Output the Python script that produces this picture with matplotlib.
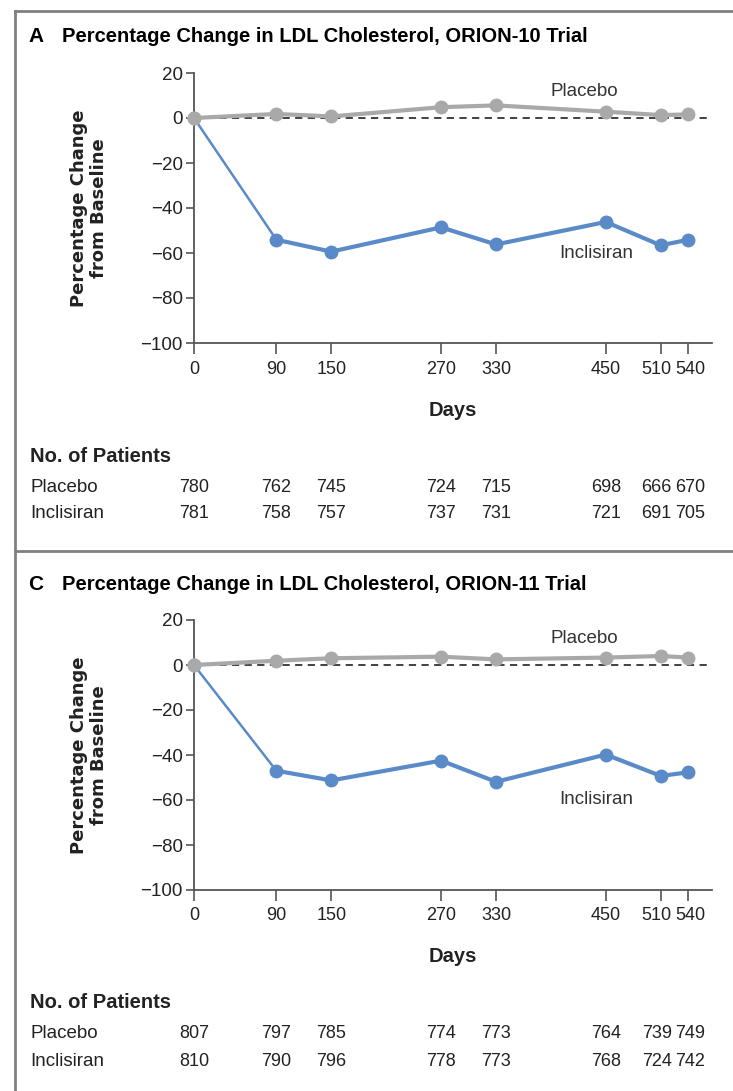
import matplotlib
matplotlib.use("Agg")
import matplotlib.pyplot as plt
from matplotlib import font_manager
from matplotlib.lines import Line2D
from matplotlib.transforms import blended_transform_factory, ScaledTranslation

# --- data ---
days = [0, 90, 150, 270, 330, 450, 510, 540]

placebo_a = [0, 1.8, 0.7, 4.8, 5.6, 2.8, 1.3, 1.6]
inclisiran_a = [0, -54.1, -59.4, -48.6, -56.2, -46.2, -56.6, -54.1]
n_placebo_a = [780, 762, 745, 724, 715, 698, 666, 670]
n_inclisiran_a = [781, 758, 757, 737, 731, 721, 691, 705]

placebo_c = [0, 1.9, 3.0, 3.7, 2.5, 3.3, 4.0, 3.3]
inclisiran_c = [0, -47.0, -51.3, -42.5, -51.9, -39.8, -49.3, -47.7]
n_placebo_c = [807, 797, 785, 774, 773, 764, 739, 749]
n_inclisiran_c = [810, 790, 796, 778, 773, 768, 724, 742]

y_ticks = [20, 0, -20, -40, -60, -80, -100]

W, H = 733, 1091
GRAY = "#a9a9a9"
BLUE = "#5a8ac8"
FRAME = "#808080"
TXT = "#222222"
NUM = 13

# the last two columns (510, 540) are crowded: nudge their labels apart a little (px)
nudge = {510: -4, 540: 2}

names = {f.name for f in font_manager.fontManager.ttflist}
narrow = "Liberation Sans Narrow" if "Liberation Sans Narrow" in names else "Liberation Sans"

fig = plt.figure(figsize=(W / 100, H / 100), dpi=100)


def fx(px):
    return px / W


def fy(py):
    return 1 - py / H


# outer frame: top edge, left edge and the divider between the panels
for xs, ys in [([15, W], [11, 11]), ([15, 15], [11, H]), ([15, W], [551, 551])]:
    fig.add_artist(Line2D([fx(x) for x in xs], [fy(y) for y in ys], color=FRAME, lw=2,
                          transform=fig.transFigure))


def column_text(ax, d, py, s, **kw):
    trans = blended_transform_factory(ax.transData, fig.transFigure)
    trans = trans + ScaledTranslation(nudge.get(d, 0) / 100, 0, fig.dpi_scale_trans)
    ax.text(d, fy(py), s, transform=trans, fontsize=NUM, family=narrow, ha="center",
            va="center", clip_on=False, color=TXT, **kw)


def panel(letter, trial, placebo, inclisiran, n_plac, n_incl, off):
    fig.text(fx(28), fy(37 + off), letter, fontsize=15, fontweight="bold",
             family=narrow, va="center", ha="left")
    fig.text(fx(62), fy(37 + off), "Percentage Change in LDL Cholesterol, " + trial,
             fontsize=14.5, fontweight="bold", family=narrow, va="center", ha="left")

    ax = fig.add_axes([fx(194), fy(343 + off), fx(712) - fx(194), fy(73 + off) - fy(343 + off)])
    ax.set_xlim(0, 566)
    ax.set_ylim(-100, 20)
    for s in ["top", "right"]:
        ax.spines[s].set_visible(False)
    for s in ["left", "bottom"]:
        ax.spines[s].set_color("#555555")
        ax.spines[s].set_linewidth(1.3)

    ax.axhline(0, color="#333333", lw=1.3, ls=(0, (4, 3)), zorder=1)

    # placebo
    ax.plot(days, placebo, color=GRAY, lw=3, marker="o", ms=9, clip_on=False, zorder=3)
    # inclisiran: thin first drop, thick afterwards
    ax.plot(days[:2], inclisiran[:2], color=BLUE, lw=1.8, clip_on=False, zorder=2)
    ax.plot(days[1:], inclisiran[1:], color=BLUE, lw=3, marker="o", ms=9, clip_on=False, zorder=2)
    ax.plot(days[:1], placebo[:1], color=GRAY, marker="o", ms=9, ls="none", clip_on=False, zorder=4)

    ax.text(426, 11.6, "Placebo", fontsize=13.5, family=narrow, ha="center", va="center", color="#333333")
    ax.text(440, -60, "Inclisiran", fontsize=13.5, family=narrow, ha="center", va="center", color="#333333")

    ax.set_xticks(days)
    ax.set_xticklabels([])
    for d in days:
        column_text(ax, d, 369 + off, str(d))
    ax.set_yticks(y_ticks)
    ax.set_yticklabels([str(t).replace("-", "\u2212") for t in y_ticks], family=narrow,
                       fontsize=13.5, color=TXT)
    ax.tick_params(axis="x", direction="out", length=8, width=1.2, color="#555555", pad=5)
    ax.tick_params(axis="y", direction="out", length=6, width=1.2, color="#555555", pad=2)

    fig.text(fx(89), fy(208 + off), "Percentage Change\nfrom Baseline", rotation=90,
             fontsize=13, fontweight="bold", family="DejaVu Sans", ha="center", va="center",
             linespacing=1.1, color=TXT)
    fig.text(fx(453), fy(410 + off), "Days", fontsize=14.5, fontweight="bold", family=narrow,
             ha="center", va="center", color=TXT)

    # number-at-risk table, counts sit under each day tick
    fig.text(fx(30), fy(456 + off), "No. of Patients", fontsize=14.5, fontweight="bold",
             family=narrow, ha="left", va="center", color=TXT)
    rows = [("Placebo", n_plac, 487), ("Inclisiran", n_incl, 514)]
    for label, counts, py in rows:
        fig.text(fx(30), fy(py + off), label, fontsize=13.5, family=narrow, ha="left",
                 va="center", color=TXT)
        for d, n in zip(days, counts):
            column_text(ax, d, py + off, str(n))
    return ax


panel("A", "ORION-10 Trial", placebo_a, inclisiran_a, n_placebo_a, n_inclisiran_a, 0)
panel("C", "ORION-11 Trial", placebo_c, inclisiran_c, n_placebo_c, n_inclisiran_c, 547)

fig.savefig("out.png", dpi=100)
